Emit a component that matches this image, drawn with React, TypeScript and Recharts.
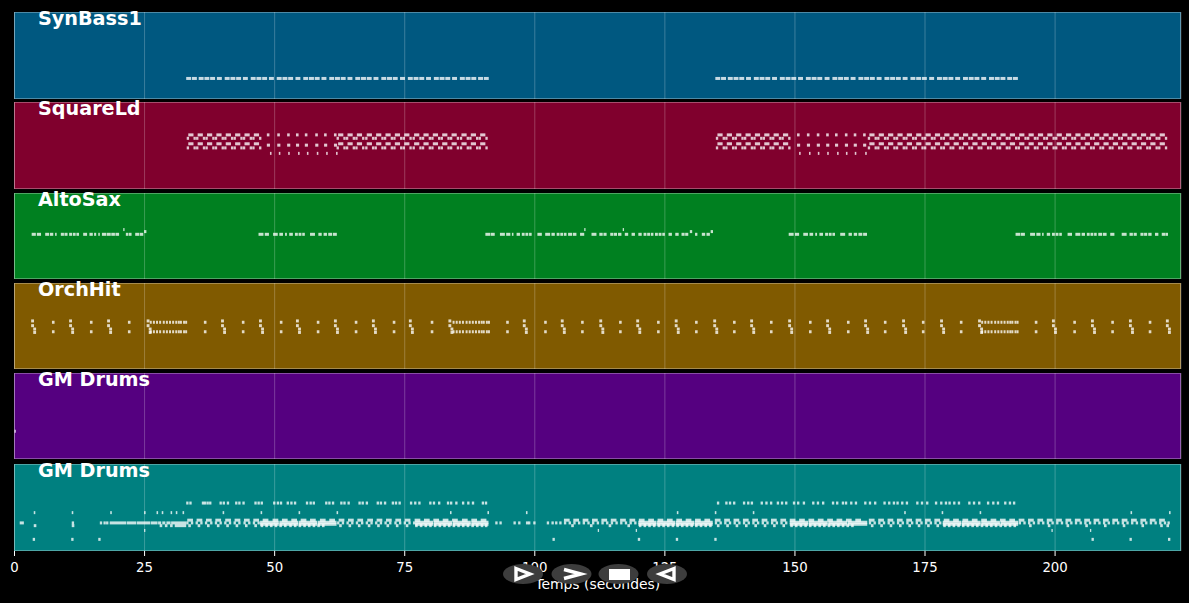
import React from "react";
import { CartesianGrid, Scatter, ScatterChart, XAxis, YAxis } from "recharts";

// Time axis
const timeTicks = [0, 25, 50, 75, 100, 125, 150, 175, 200];
const timeMax = 224.2;

// SynBass1
const bassShortStarts = [33.0, 34.1, 38.9, 43.9, 48.9, 54.0, 59.0, 64.0, 69.0, 74.1, 79.1, 84.1, 89.1, 90.2, 134.7, 135.8, 140.6, 145.6, 150.6, 155.7, 160.7, 165.7, 170.7, 175.8, 180.8, 185.8, 190.8, 191.9];
const bassLongStarts = [35.4, 36.5, 37.6, 40.4, 41.5, 42.6, 45.4, 46.5, 47.6, 50.4, 51.5, 52.6, 55.5, 56.6, 57.7, 60.5, 61.6, 62.7, 65.5, 66.6, 67.7, 70.5, 71.6, 72.7, 75.6, 76.7, 77.8, 80.6, 81.7, 82.8, 85.6, 86.7, 87.8, 137.1, 138.2, 139.3, 142.1, 143.2, 144.3, 147.1, 148.2, 149.3, 152.1, 153.2, 154.3, 157.2, 158.3, 159.4, 162.2, 163.3, 164.4, 167.2, 168.3, 169.4, 172.2, 173.3, 174.4, 177.3, 178.4, 179.5, 182.3, 183.4, 184.5, 187.3, 188.4, 189.5];

// SquareLd
const squareTopStarts = [33.4, 35.2, 37.0, 38.8, 40.6, 42.4, 44.2, 46.0, 62.2, 64.0, 65.8, 67.7, 69.5, 71.3, 73.1, 74.9, 76.8, 78.6, 80.4, 82.2, 84.0, 85.9, 87.7, 89.5, 135.1, 136.9, 138.7, 140.5, 142.3, 144.1, 145.9, 147.7, 164.3, 166.1, 167.9, 169.7, 171.5, 173.3, 175.1, 176.9, 178.7, 180.5, 182.3, 184.1, 185.9, 187.7, 189.5, 191.3, 193.1, 194.9, 196.7, 198.5, 200.3, 202.1, 203.9, 205.7, 207.5, 209.3, 211.1, 212.9, 214.7, 216.5, 218.3, 220.1];
const squareFootStarts = [33.1, 34.4, 34.9, 36.2, 36.7, 38.0, 38.5, 39.8, 40.3, 41.6, 42.1, 43.4, 43.9, 45.2, 45.7, 47.0, 61.9, 63.2, 63.7, 65.0, 65.5, 66.8, 67.4, 68.7, 69.2, 70.5, 71.0, 72.3, 72.8, 74.1, 74.6, 75.9, 76.5, 77.8, 78.3, 79.6, 80.1, 81.4, 81.9, 83.2, 83.7, 85.0, 85.6, 86.9, 87.4, 88.7, 89.2, 90.5, 134.8, 136.1, 136.6, 137.9, 138.4, 139.7, 140.2, 141.5, 142.0, 143.3, 143.8, 145.1, 145.6, 146.9, 147.4, 148.7, 164.0, 165.3, 165.8, 167.1, 167.6, 168.9, 169.4, 170.7, 171.2, 172.5, 173.0, 174.3, 174.8, 176.1, 176.6, 177.9, 178.4, 179.7, 180.2, 181.5, 182.0, 183.3, 183.8, 185.1, 185.6, 186.9, 187.4, 188.7, 189.2, 190.5, 191.0, 192.3, 192.8, 194.1, 194.6, 195.9, 196.4, 197.7, 198.2, 199.5, 200.0, 201.3, 201.8, 203.1, 203.6, 204.9, 205.4, 206.7, 207.2, 208.5, 209.0, 210.3, 210.8, 212.1, 212.6, 213.9, 214.4, 215.7, 216.2, 217.5, 218.0, 219.3, 219.8, 221.1];
const squareDotStarts = [48.5, 50.5, 52.4, 54.1, 55.8, 57.8, 59.5, 61.4, 150.4, 152.3, 154.2, 156.0, 157.7, 159.6, 161.3, 163.1];
const squareLowStarts = [49.1, 50.8, 52.6, 54.5, 56.2, 58.1, 59.9, 61.8, 150.8, 152.7, 154.4, 156.2, 158.1, 159.8, 161.5, 163.5];

// AltoSax, [start, duration]
const altoNotes = [
  [3.3, 0.8], [4.3, 0.8], [5.9, 0.75], [6.8, 0.65], [7.8, 0.3], [8.9, 0.6], [9.6, 0.6], [10.5, 0.55], [11.2, 0.55], [11.9, 0.5], [13.2, 0.75], [14.4, 0.65], [15.3, 0.4], [16.1, 0.3], [16.8, 0.8], [17.7, 0.8], [18.6, 0.7], [19.4, 0.7], [21.4, 0.5], [22.0, 0.5], [23.2, 0.8], [24.1, 0.65],
  [46.9, 0.95], [48.1, 0.8], [49.7, 0.9], [50.9, 0.7], [52.0, 0.35], [52.8, 0.7], [53.9, 0.55], [54.6, 0.55], [55.3, 0.5], [56.8, 0.95], [58.4, 0.65], [59.4, 0.65], [60.3, 0.75], [61.2, 0.75],
  [90.5, 0.9], [91.5, 0.8], [93.3, 0.95], [94.5, 0.8], [95.6, 0.3], [96.5, 0.65], [97.5, 0.55], [98.2, 0.55], [98.9, 0.5], [100.5, 0.85], [102.0, 0.95], [103.2, 0.65], [104.2, 0.55], [104.9, 0.55], [105.6, 0.5], [106.4, 0.75], [107.3, 0.7], [108.7, 0.8], [110.9, 0.95], [112.4, 0.65], [113.2, 0.6], [114.5, 0.6], [115.2, 0.6], [116.0, 0.65], [117.3, 0.65], [118.6, 0.65], [119.9, 0.65], [120.9, 0.55], [121.6, 0.55], [122.3, 0.5], [123.1, 0.55], [123.8, 0.55], [124.5, 0.5], [125.7, 0.65], [127.0, 0.65], [128.2, 0.6], [128.9, 0.6], [130.8, 0.45], [132.1, 0.65], [133.0, 0.65],
  [148.8, 0.95], [150.0, 0.8], [151.6, 0.9], [152.8, 0.7], [153.9, 0.35], [154.7, 0.7], [155.8, 0.55], [156.5, 0.55], [157.2, 0.5], [158.7, 0.95], [160.3, 0.65], [161.3, 0.65], [162.2, 0.75], [163.1, 0.75],
  [192.4, 0.9], [193.4, 0.8], [195.2, 0.95], [196.4, 0.8], [197.5, 0.3], [198.4, 0.65], [199.4, 0.55], [200.1, 0.55], [200.8, 0.5], [202.4, 0.85], [203.9, 0.95], [205.1, 0.65], [206.1, 0.55], [206.8, 0.55], [207.5, 0.5], [208.3, 0.75], [209.2, 0.7], [210.6, 0.8], [212.8, 0.95], [214.3, 0.65], [215.1, 0.6], [216.4, 0.6], [217.1, 0.6], [217.9, 0.65], [219.2, 0.65], [220.5, 0.65], [221.2, 0.5],
];
const altoHighStarts = [20.9, 109.5, 116.9];
const altoRiseStarts = [24.9, 129.8, 133.8];

// OrchHit
const orchColonStarts = [7.2, 14.5, 21.8, 36.4, 43.7, 51.0, 58.1, 65.4, 72.7, 80.0, 94.5, 101.8, 108.9, 116.2, 123.5, 130.8, 138.1, 145.2, 152.7, 160.0, 167.1, 174.4, 181.7, 196.1, 203.5, 210.8, 218.0];
const orchClusterStarts = [26.0, 26.6, 27.2, 27.8, 28.5, 29.1, 29.7, 30.3, 30.9, 31.4, 31.8, 32.4, 32.8, 84.2, 84.8, 85.4, 86.0, 86.7, 87.3, 87.9, 88.5, 89.1, 89.6, 90.0, 90.6, 91.0, 185.8, 186.4, 187.0, 187.6, 188.3, 188.9, 189.5, 190.1, 190.7, 191.2, 191.6, 192.2, 192.6];
const orchSlashEarly = [3.2, 10.5, 17.8, 25.4, 39.7, 47.0, 54.1, 61.4, 68.7, 75.8, 83.4, 97.7, 105.0, 112.4, 119.5, 126.9, 134.3, 141.4, 148.7, 156.0, 163.3, 170.6, 177.9, 185.2, 199.4, 206.9, 214.2, 221.3];
const orchSlashLate = [3.6, 10.9, 18.2, 25.8, 40.1, 47.4, 54.5, 61.8, 69.1, 76.2, 83.8, 98.1, 105.4, 112.8, 119.9, 127.3, 134.7, 141.8, 149.1, 156.4, 163.7, 171.0, 178.3, 185.6, 199.8, 207.3, 214.6, 221.7];

// First GM Drums track
const drumsOneStarts = [0];

// Second GM Drums track
const hatStarts = [33.0, 33.6, 36.0, 36.4, 36.9, 37.4, 39.4, 40.0, 40.8, 42.4, 43.0, 43.8, 46.1, 46.7, 47.3, 49.7, 50.4, 51.0, 52.3, 53.0, 53.7, 56.0, 56.7, 57.3, 59.7, 60.3, 61.0, 62.6, 63.2, 64.0, 66.1, 66.7, 67.5, 69.6, 70.2, 71.0, 72.5, 73.1, 73.8, 76.0, 76.8, 77.6, 79.7, 80.4, 81.4, 83.1, 83.7, 84.7, 86.0, 87.0, 87.9, 89.8, 90.4, 135.0, 136.6, 137.3, 138.1, 140.0, 140.8, 141.5, 143.4, 144.3, 145.2, 146.5, 147.3, 148.1, 149.6, 150.4, 151.5, 153.3, 154.2, 155.2, 157.1, 157.9, 159.0, 159.6, 160.6, 161.5, 163.3, 164.2, 165.2, 167.0, 167.9, 168.8, 169.5, 170.4, 171.3, 173.3, 174.2, 175.2, 176.9, 177.9, 178.8, 179.5, 180.4, 181.3, 183.3, 184.2, 185.2, 186.9, 187.9, 188.8, 190.2, 191.1, 191.9];
const tomStarts = [3.7, 11.0, 18.4, 24.9, 27.3, 28.3, 30.0, 31.0, 32.3, 40.0, 47.3, 54.6, 61.9, 83.7, 90.9, 98.3, 127.3, 134.6, 141.9, 171.0, 178.2, 185.5, 214.5, 221.9];
const kickStarts = [3.5, 10.9, 16.1, 103.4, 119.8, 127.1, 134.5, 207.0, 214.3, 221.7];
const lowTickStarts = [24.9, 112.1, 119.4, 199.3, 206.7];
const bandTopStarts = [33.2, 35.0, 36.8, 38.6, 40.5, 42.3, 44.1, 45.9, 47.7, 49.6, 51.4, 53.2, 55.0, 56.8, 58.7, 60.5, 62.3, 64.1, 65.9, 67.8, 69.6, 71.4, 73.2, 75.0, 76.9, 78.7, 80.5, 82.3, 84.1, 86.0, 87.8, 89.6, 105.6, 107.4, 109.2, 111.0, 112.8, 114.6, 116.4, 118.2, 120.0, 121.8, 123.6, 125.4, 127.2, 129.0, 130.8, 132.6, 134.6, 136.4, 138.2, 140.0, 141.8, 143.6, 145.4, 147.2, 149.0, 150.8, 152.6, 154.4, 156.2, 158.0, 159.8, 161.6, 164.2, 166.0, 167.8, 169.6, 171.4, 173.2, 175.0, 176.8, 178.6, 180.4, 182.2, 184.0, 185.8, 187.6, 189.4, 191.2, 193.0, 194.8, 196.6, 198.4, 200.2, 202.0, 203.8, 205.6, 207.4, 209.2, 211.0, 212.8, 214.6, 216.4, 218.2, 220.0];
const bandMidStarts = [11.0, 16.4, 17.1, 17.6, 92.4, 93.2, 95.9, 96.8, 98.3, 98.7, 99.7, 102.3, 103.2, 103.9, 104.7, 33.0, 33.9, 34.8, 35.7, 36.6, 37.6, 38.5, 39.4, 40.3, 41.2, 42.1, 43.0, 44.0, 44.9, 45.8, 46.7, 62.0, 62.9, 63.8, 64.7, 65.6, 66.6, 67.5, 68.4, 69.3, 70.2, 71.1, 72.0, 73.0, 73.9, 74.8, 75.7, 76.6, 105.6, 106.5, 107.4, 108.3, 109.2, 110.1, 111.0, 111.9, 112.8, 113.7, 114.6, 115.5, 116.4, 117.3, 118.2, 119.1, 134.6, 135.5, 136.4, 137.3, 138.2, 139.1, 140.0, 140.9, 141.8, 142.7, 143.6, 144.5, 145.4, 146.3, 147.2, 148.1, 164.2, 165.1, 166.0, 166.9, 167.8, 168.7, 169.6, 170.5, 171.4, 172.3, 173.2, 174.1, 175.0, 175.9, 176.8, 177.7, 193.0, 193.9, 194.8, 195.7, 196.6, 197.5, 198.4, 199.3, 200.2, 201.1, 202.0, 202.9, 203.8, 204.7, 205.6, 206.5, 207.4, 208.3, 209.2, 210.1, 211.0, 211.9, 212.8, 213.7, 214.6, 215.5, 216.4, 217.3, 218.2, 219.1, 220.0, 220.9, 221.6];
const introSpans = [[1.0, 0.8], [18.3, 3.2], [21.6, 1.8], [23.5, 2.6], [26.2, 1.3], [27.6, 0.6], [28.4, 0.6], [29.2, 0.8], [30.1, 2.9]];
const bandDenseSpans = [
  [47.2, 3.6], [50.9, 3.6], [54.6, 3.6], [58.3, 3.6], [77.0, 3.5], [80.6, 3.5], [84.2, 3.5], [87.8, 3.3], [119.9, 3.5], [123.5, 3.5], [127.1, 3.5], [130.7, 3.5],
  [149.0, 3.6], [152.7, 3.6], [156.4, 3.6], [160.1, 3.8], [178.4, 3.6], [182.1, 3.6], [185.8, 3.6], [189.5, 3.4],
];
const bandLowStarts = [3.7, 11.0, 27.9, 28.9, 29.9, 33.4, 35.2, 37.0, 38.9, 40.7, 42.5, 44.3, 46.1, 47.3, 48.2, 49.1, 50.0, 50.9, 51.8, 52.8, 53.7, 54.6, 55.5, 56.4, 57.3, 58.2, 59.1, 62.4, 64.2, 66.0, 67.9, 69.7, 71.5, 73.3, 75.2, 77.0, 77.9, 78.8, 79.7, 80.6, 81.5, 82.4, 83.3, 84.2, 85.1, 86.0, 86.9, 87.8, 88.7, 89.6, 90.4, 107.0, 110.6, 114.2, 117.8, 120.0, 120.9, 121.8, 122.7, 123.6, 124.5, 125.4, 126.3, 127.2, 128.1, 129.0, 129.9, 130.8, 131.7, 132.6, 133.5, 135.0, 136.8, 138.6, 140.4, 142.2, 144.0, 145.8, 147.6, 149.1, 150.0, 150.9, 151.8, 152.7, 153.6, 154.5, 155.4, 156.3, 157.2, 158.1, 159.0, 159.9, 160.8, 164.6, 166.4, 168.2, 170.0, 171.8, 173.6, 175.4, 177.2, 178.5, 179.4, 180.3, 181.2, 182.1, 183.0, 183.9, 184.8, 185.7, 186.6, 187.5, 188.4, 189.3, 190.2, 191.1, 192.0, 195.0, 198.6, 202.2, 205.8, 209.4, 213.0, 216.6, 220.2, 221.4];
const bandLowSpans = [[30.8, 2.2]];

type Note = { time: number; pitch: number; duration: number };

const row = (pitch: number, duration: number, starts: number[]): Note[] =>
  starts.map((time) => ({ time, pitch, duration }));
const spans = (pitch: number, pairs: number[][]): Note[] =>
  pairs.map(([time, duration]) => ({ time, pitch, duration }));

const synBassNotes = [...row(30, 0.95, bassShortStarts), ...row(30, 0.95, bassLongStarts)];
const squareLdNotes = [
  ...row(79, 1.0, squareTopStarts),
  ...row(66, 1.0, squareTopStarts),
  ...row(74, 0.45, squareFootStarts),
  ...row(60, 0.45, squareFootStarts),
  ...row(79, 0.5, squareDotStarts),
  ...row(64, 0.6, squareDotStarts),
  ...row(52, 0.3, squareLowStarts),
];
const altoSaxNotes = [...spans(66, altoNotes), ...row(73, 0.25, altoHighStarts), ...row(70, 0.45, altoRiseStarts)];
const orchHitNotes = [
  ...row(69, 0.5, orchColonStarts),
  ...row(55, 0.5, orchColonStarts),
  ...row(69, 0.38, orchClusterStarts),
  ...row(55, 0.38, orchClusterStarts),
  ...row(71, 0.55, orchSlashEarly),
  ...row(64, 0.55, orchSlashEarly),
  ...row(59, 0.55, orchSlashLate),
  ...row(54, 0.55, orchSlashLate),
];
const gmDrumsOneNotes = row(41, 0.25, drumsOneStarts);
const gmDrumsTwoNotes = [
  ...row(70, 0.45, hatStarts),
  ...row(56, 0.3, tomStarts),
  ...row(17, 0.45, kickStarts),
  ...row(30, 0.25, lowTickStarts),
  ...row(45, 1.1, bandTopStarts),
  ...row(41, 0.45, bandMidStarts),
  ...spans(41, introSpans),
  ...spans(42, bandDenseSpans),
  ...spans(39, bandDenseSpans),
  ...row(37, 0.5, bandLowStarts),
  ...spans(37, bandLowSpans),
];

const tracks = [
  { name: "SynBass1", color: "#005880", top: 12, height: 87, notes: synBassNotes },
  { name: "SquareLd", color: "#80002d", top: 102, height: 87, notes: squareLdNotes },
  { name: "AltoSax", color: "#008020", top: 193, height: 86, notes: altoSaxNotes },
  { name: "OrchHit", color: "#805a00", top: 283, height: 86, notes: orchHitNotes },
  { name: "GM Drums", color: "#550080", top: 373, height: 86, notes: gmDrumsOneNotes },
  { name: "GM Drums", color: "#008080", top: 464, height: 87, notes: gmDrumsTwoNotes },
];

const LEFT = 14.5;
const PLOT_WIDTH = 1166.5;
const PX_PER_SEC = PLOT_WIDTH / timeMax;
const FONT = "'DejaVu Sans', sans-serif";

const NoteMark = (props: any) => {
  const { cx, cy, payload } = props;
  return <rect x={cx} y={cy - 1.5} width={payload.duration * PX_PER_SEC} height={3} fill="#ffffff" fillOpacity={0.78} />;
};

const Track = ({ track, last }: { track: (typeof tracks)[number]; last: boolean }) => {
  const axisHeight = last ? 45 : 0;
  return (
    <div style={{ position: "absolute", left: 0, top: track.top, width: 1189 }}>
      <div
        style={{
          position: "absolute",
          left: 14,
          top: 0,
          width: 1167,
          height: track.height,
          background: track.color,
          boxShadow: "inset 0 0 0 1px rgba(255,255,255,0.3)",
        }}
      />
      <ScatterChart
        width={1189}
        height={track.height + axisHeight}
        margin={{ top: 0, right: 8, bottom: 0, left: LEFT }}
        style={{ position: "absolute", left: 0, top: 0 }}
      >
        <CartesianGrid horizontal={false} stroke="#ffffff" strokeOpacity={0.23} strokeWidth={1} />
        <XAxis
          type="number"
          dataKey="time"
          domain={[0, timeMax]}
          ticks={timeTicks}
          hide={!last}
          height={axisHeight}
          tickSize={5}
          tickMargin={4}
          tick={{ fill: "#ffffff", fontSize: 13.3, fontFamily: FONT, dy: 3 }}
          tickLine={{ stroke: "#ffffff" }}
          axisLine={false}
          interval={0}
          label={
            last
              ? { value: "Temps (secondes)", position: "insideBottom", offset: 7, fill: "#ffffff", fontSize: 13.9, fontFamily: FONT }
              : undefined
          }
        />
        <YAxis type="number" dataKey="pitch" domain={[0, 127]} hide />
        <Scatter data={track.notes} shape={NoteMark} isAnimationActive={false} />
      </ScatterChart>
      <div
        style={{
          position: "absolute",
          left: 38,
          top: -5,
          fontFamily: FONT,
          fontWeight: "bold",
          fontSize: 19.2,
          lineHeight: "23px",
          color: "#ffffff",
          whiteSpace: "nowrap",
        }}
      >
        {track.name}
      </div>
    </div>
  );
};

// Playback buttons drawn over the axis
const Controls = () => (
  <svg width={1189} height={603} style={{ position: "absolute", left: 0, top: 0, pointerEvents: "none" }}>
    <ellipse cx={523} cy={574} rx={20} ry={10} fill="#3d3d3d" />
    <ellipse cx={571.5} cy={574} rx={20} ry={10} fill="#3d3d3d" />
    <ellipse cx={618.5} cy={574} rx={20} ry={10} fill="#3d3d3d" />
    <ellipse cx={667} cy={574} rx={20} ry={10} fill="#3d3d3d" />
    <path d="M516 568.5 L530 574 L516 579.5 Z" fill="none" stroke="#ffffff" strokeWidth={3.4} />
    <path d="M564 569.5 L581 574 L564 578.5" fill="none" stroke="#ffffff" strokeWidth={3.4} />
    <rect x={609} y={569} width={21} height={11} fill="#ffffff" />
    <path d="M674 568.5 L660 574 L674 579.5 Z" fill="none" stroke="#ffffff" strokeWidth={3.4} />
  </svg>
);

export default function App() {
  return (
    <div style={{ position: "absolute", left: 0, top: 0, width: 1189, height: 603, background: "#000000", overflow: "hidden" }}>
      {tracks.map((track, i) => (
        <Track key={i} track={track} last={i === tracks.length - 1} />
      ))}
      <Controls />
    </div>
  );
}
